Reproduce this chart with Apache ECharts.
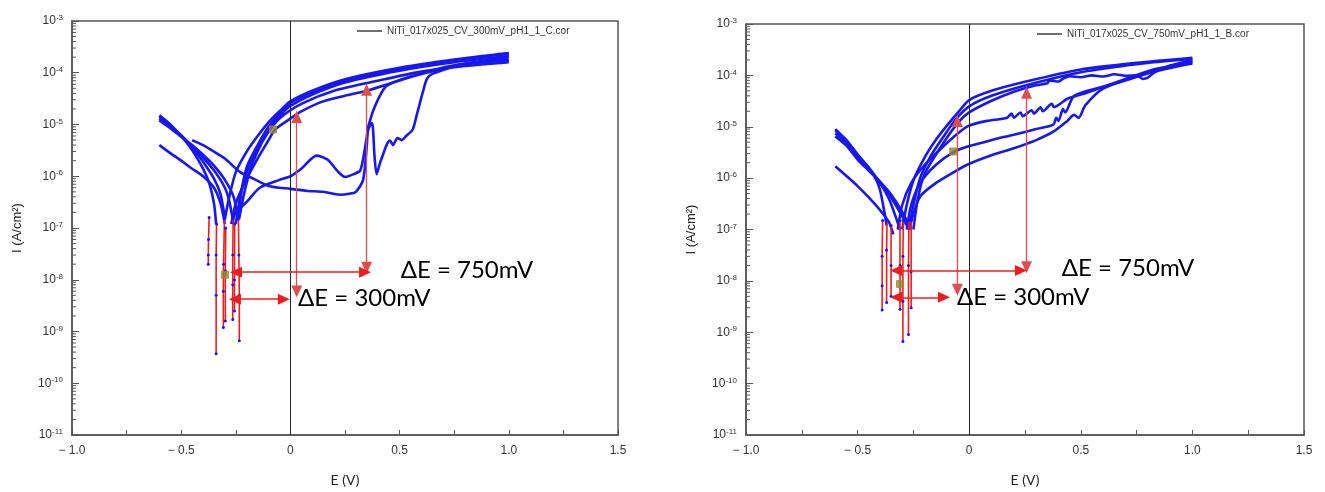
<!DOCTYPE html>
<html>
<head>
<meta charset="utf-8">
<script src="https://cdn.jsdelivr.net/npm/echarts@6/dist/echarts.min.js"></script>
<style>
html,body{margin:0;padding:0;background:#fff;}
#c{width:1325px;height:492px;}
</style>
</head>
<body>
<div id="c"></div>
<script>
// ---------- DATA (E in V, I in A/cm2) ----------
const legendNames = ['NiTi_017x025_CV_300mV_pH1_1_C.cor', 'NiTi_017x025_CV_750mV_pH1_1_B.cor'];
const xTickLabelsAt = [-1.0, -0.5, 0, 0.5, 1.0, 1.5];

const leftCathodic = [
  [[-0.6,1.5e-5],[-0.55,1e-5],[-0.5,6e-6],[-0.45,3.2e-6],[-0.4,1.4e-6],[-0.37,7e-7],[-0.35,3e-7],[-0.34,1.2e-7]],
  [[-0.6,1.4e-5],[-0.55,9.5e-6],[-0.5,6.2e-6],[-0.45,3.6e-6],[-0.4,1.9e-6],[-0.35,9e-7],[-0.32,4.5e-7],[-0.3,1.5e-7]],
  [[-0.6,1.3e-5],[-0.55,9e-6],[-0.5,6e-6],[-0.45,3.8e-6],[-0.4,2.3e-6],[-0.35,1.3e-6],[-0.3,6e-7],[-0.28,3.3e-7],[-0.26,1.2e-7]],
  [[-0.6,1.2e-5],[-0.55,8.5e-6],[-0.5,5.8e-6],[-0.45,4e-6],[-0.4,2.6e-6],[-0.35,1.6e-6],[-0.3,8.5e-7],[-0.26,4e-7],[-0.24,1.5e-7]],
  [[-0.6,4e-6],[-0.55,2.8e-6],[-0.5,2e-6],[-0.45,1.4e-6],[-0.4,1e-6],[-0.35,6e-7],[-0.32,3e-7],[-0.3,1.2e-7]]
];
const leftAnodic = [
  [[-0.25,1.2e-7],[-0.23,4e-7],[-0.2,1.5e-6],[-0.15,4e-6],[-0.1,9e-6],[-0.05,1.6e-5],[0,2.6e-5],[0.1,4.2e-5],[0.25,7e-5],[0.5,1.2e-4],[0.75,1.75e-4],[1.0,2.3e-4]],
  [[-0.235,1.5e-7],[-0.21,5e-7],[-0.18,1.5e-6],[-0.13,4.5e-6],[-0.08,1e-5],[-0.03,1.8e-5],[0,2.3e-5],[0.1,3.8e-5],[0.25,6.5e-5],[0.5,1.1e-4],[0.75,1.6e-4],[1.0,2.1e-4]],
  [[-0.3,1.5e-7],[-0.28,4e-7],[-0.25,1.2e-6],[-0.2,3e-6],[-0.15,6e-6],[-0.1,1.1e-5],[-0.05,1.8e-5],[0,2.8e-5],[0.1,4.5e-5],[0.25,7.5e-5],[0.5,1.25e-4],[0.75,1.8e-4],[1.0,2.4e-4]],
  [[-0.27,1.2e-7],[-0.25,3e-7],[-0.2,9e-7],[-0.15,2.2e-6],[-0.1,5e-6],[-0.07,8e-6],[0,1.3e-5],[0.05,1.8e-5],[0.15,2.8e-5],[0.25,3.6e-5],[0.35,4.5e-5],[0.47,6.5e-5],[0.6,9.5e-5],[0.8,1.45e-4],[1.0,1.8e-4]],
  [[1.0,1.6e-4],[0.8,1.35e-4],[0.6,1.05e-4],[0.4,7e-5],[0.2,4.5e-5],[0.05,2.5e-5],[-0.05,1.3e-5],[-0.12,5.5e-6],[-0.18,2e-6],[-0.22,6e-7],[-0.24,1.5e-7]]
];
const leftHump = [[-0.27,1.2e-7],[-0.25,2e-7],[-0.2,3.2e-7],[-0.14,6e-7],[-0.05,8.5e-7],[0,1e-6],[0.05,1.4e-6],[0.12,2.5e-6],[0.17,2.1e-6],[0.22,1.2e-6],[0.25,9.7e-7],[0.29,1.1e-6],[0.32,1.3e-6],[0.34,3.2e-6],[0.355,7.6e-6],[0.372,1.07e-5],[0.378,8.5e-6],[0.385,2.5e-6],[0.395,1.1e-6],[0.41,1.8e-6],[0.424,2.6e-6],[0.44,4e-6],[0.456,4.9e-6],[0.47,4e-6],[0.49,5.5e-6],[0.51,5e-6],[0.53,6e-6],[0.56,8e-6],[0.578,1.5e-5],[0.607,4.3e-5],[0.625,7.6e-5],[0.65,9.5e-5],[0.8,1.5e-4],[1.0,2e-4]];
const leftLower = [[-0.45,5e-6],[-0.4,4e-6],[-0.35,3e-6],[-0.3,2.2e-6],[-0.23,1.2e-6],[-0.17,9e-7],[-0.1,6.5e-7],[0,5.7e-7],[0.08,5.2e-7],[0.15,5e-7],[0.227,4.4e-7],[0.27,4.6e-7],[0.3,5e-7],[0.333,8.5e-7],[0.35,4e-6],[0.355,8.5e-6],[0.365,1.2e-5],[0.378,1.8e-5],[0.41,3.6e-5],[0.44,5.6e-5],[0.55,8.5e-5],[0.75,1.4e-4],[1.0,1.7e-4]];
const leftDips = [
  [[-0.372,1.6e-7],[-0.375,6e-8],[-0.376,3e-8],[-0.376,2e-8]],
  [[-0.338,1.2e-7],[-0.34,3e-8],[-0.34,5e-9],[-0.34,3.7e-10]],
  [[-0.302,1.5e-7],[-0.306,2e-8],[-0.307,6e-9],[-0.307,1.2e-9]],
  [[-0.296,1e-7],[-0.298,1.5e-8],[-0.298,1.6e-9]],
  [[-0.262,1.5e-7],[-0.264,3e-8],[-0.264,8e-9],[-0.264,1.7e-9]],
  [[-0.255,1.2e-7],[-0.256,1e-8],[-0.256,2.5e-9]],
  [[-0.238,1.5e-7],[-0.236,3e-8],[-0.234,5e-9],[-0.234,6.6e-10]]
];
const leftMarkers = [[-0.30,1.25e-8],[-0.08,8e-6]];
const leftArrows = [
  [[0.029,1.4e-5],[0.029,5.9e-9]],
  [[0.349,4.7e-5],[0.349,1.7e-8]],
  [[-0.249,1.4e-8],[0.342,1.4e-8]],
  [[-0.254,4.2e-9],[-0.03,4.2e-9]]
];
const leftTexts = [[0.505,1.53e-8,'ΔE = 750mV'],[0.035,4.3e-9,'ΔE = 300mV']];

const rightCathodic = [
  [[-0.6,9e-6],[-0.55,5.5e-6],[-0.5,2.9e-6],[-0.45,1.6e-6],[-0.42,1e-6],[-0.4,6e-7],[-0.38,2.2e-7],[-0.37,1.2e-7]],
  [[-0.6,8.5e-6],[-0.55,5.2e-6],[-0.5,2.7e-6],[-0.45,1.6e-6],[-0.4,8e-7],[-0.36,4e-7],[-0.33,1.8e-7],[-0.31,1e-7]],
  [[-0.6,7.5e-6],[-0.55,4.8e-6],[-0.5,2.5e-6],[-0.45,1.5e-6],[-0.4,8.5e-7],[-0.35,4.2e-7],[-0.3,1.8e-7],[-0.27,1e-7]],
  [[-0.6,6.5e-6],[-0.55,4.3e-6],[-0.5,2.3e-6],[-0.45,1.4e-6],[-0.4,8.5e-7],[-0.35,4.8e-7],[-0.3,2.2e-7],[-0.26,1e-7]],
  [[-0.6,1.7e-6],[-0.55,1.1e-6],[-0.5,7e-7],[-0.45,4.2e-7],[-0.4,2.4e-7],[-0.36,1.4e-7],[-0.34,8e-8]]
];
const rightAnodic = [
  [[-0.3,1e-7],[-0.28,3e-7],[-0.25,9e-7],[-0.2,2.5e-6],[-0.15,5.5e-6],[-0.1,1.05e-5],[-0.05,1.9e-5],[0,3.3e-5],[0.1,5e-5],[0.25,7.5e-5],[0.5,1.3e-4],[0.75,1.75e-4],[1.0,2.2e-4]],
  [[-0.27,1e-7],[-0.25,3e-7],[-0.22,1e-6],[-0.17,2.8e-6],[-0.12,6e-6],[-0.06,1.4e-5],[0,2.5e-5],[0.1,4e-5],[0.26,6.5e-5],[0.5,1.15e-4],[0.75,1.65e-4],[1.0,2.1e-4]],
  [[-0.32,1e-7],[-0.3,3e-7],[-0.26,8e-7],[-0.2,1.8e-6],[-0.12,4e-6],[-0.05,7.5e-6],[0,1.05e-5],[0.08,1.3e-5],[0.17,1.5e-5],[0.19,1.8e-5],[0.2,1.5e-5],[0.23,1.9e-5],[0.24,1.6e-5],[0.28,2.1e-5],[0.29,1.8e-5],[0.32,2.4e-5],[0.33,2e-5],[0.37,2.8e-5],[0.38,2.4e-5],[0.44,3.5e-5],[0.52,4.5e-5],[0.6,6e-5],[0.7,8.5e-5],[0.825,1.3e-4],[0.9,1.5e-4],[1.0,1.8e-4]],
  [[-0.28,1e-7],[-0.26,3e-7],[-0.22,8e-7],[-0.15,1.8e-6],[-0.07,3.2e-6],[0,4.2e-6],[0.1,5.5e-6],[0.2,7e-6],[0.3,9e-6],[0.377,1.1e-5],[0.39,1.5e-5],[0.4,1.3e-5],[0.42,2.2e-5],[0.43,1.9e-5],[0.47,4e-5],[0.6,6e-5],[0.68,7.5e-5],[0.9,1.5e-4],[1.0,1.9e-4]],
  [[-0.27,1e-7],[-0.25,2e-7],[-0.22,4.4e-7],[-0.15,8e-7],[-0.07,1.3e-6],[0,1.9e-6],[0.1,2.8e-6],[0.2,3.8e-6],[0.3,5.5e-6],[0.377,8e-6],[0.44,1.3e-5],[0.47,1.7e-5],[0.49,1.5e-5],[0.52,2.6e-5],[0.6,5.5e-5],[0.8,1.1e-4],[1.0,1.7e-4]],
  [[-0.25,1e-7],[-0.23,4e-7],[-0.2,1.2e-6],[-0.12,4.5e-6],[-0.05,1.2e-5],[0,1.9e-5],[0.1,3.2e-5],[0.2,4.8e-5],[0.29,6.3e-5],[0.35,7e-5],[0.36,8e-5],[0.4,7.6e-5],[0.42,8.6e-5],[0.45,9.6e-5],[0.5,9.2e-5],[0.55,1e-4],[0.6,9.5e-5],[0.65,1.05e-4],[0.7,9.8e-5],[0.75,1e-4],[0.78,8.5e-5],[0.8,9e-5],[0.83,1.15e-4],[0.9,1.55e-4],[1.0,2e-4]]
];
const rightDips = [
  [[-0.388,1.5e-7],[-0.39,3e-8],[-0.39,8e-9],[-0.39,2.7e-9]],
  [[-0.368,1.5e-7],[-0.37,4e-8],[-0.37,3.8e-9]],
  [[-0.35,1.2e-7],[-0.35,2e-8],[-0.35,5e-9]],
  [[-0.31,1.5e-7],[-0.31,2e-8],[-0.31,2.8e-9]],
  [[-0.295,1.5e-7],[-0.297,3e-8],[-0.297,4e-9],[-0.297,6.6e-10]],
  [[-0.27,1.5e-7],[-0.272,2e-8],[-0.272,9e-10]],
  [[-0.26,1.5e-7],[-0.26,1.5e-8],[-0.26,3e-9]]
];
const rightMarkers = [[-0.31,8.7e-9],[-0.072,3.3e-6]];
const rightArrows = [
  [[-0.053,1.3e-5],[-0.053,6.7e-9]],
  [[0.257,4.6e-5],[0.257,1.85e-8]],
  [[-0.327,1.6e-8],[0.232,1.6e-8]],
  [[-0.327,4.8e-9],[-0.113,4.8e-9]]
];
const rightTexts = [[0.415,1.78e-8,'ΔE = 750mV'],[-0.055,4.8e-9,'ΔE = 300mV']];

// ---------- CHART ----------
const BLUE = '#1717f2';
const RED = '#f01c1c';
const AX = '#555';
const LBL = '#333';

const chart = echarts.init(document.getElementById('c'), null, {renderer: 'canvas'});

function minorTickValues() {
  const out = [];
  for (let n = -11; n < -3; n++) for (let k = 2; k <= 9; k++) out.push([-1, k * Math.pow(10, n)]);
  return out;
}

function xAxisCfg(gi) {
  return {
    type: 'value', gridIndex: gi, min: -1, max: 1.5, interval: 0.25,
    name: 'E (V)', nameLocation: 'middle', nameGap: 38,
    nameTextStyle: {fontFamily: 'Lato', fontSize: 14, color: '#222'},
    axisLine: {show: true, onZero: false, lineStyle: {color: AX, width: 1.5}},
    axisTick: {show: true, inside: true, length: 5, lineStyle: {color: AX}},
    splitLine: {show: false},
    axisLabel: {
      margin: 10, fontFamily: 'Liberation Sans', fontSize: 12, color: LBL,
      formatter: v => {
        const isLbl = xTickLabelsAt.some(t => Math.abs(t - v) < 1e-9);
        if (!isLbl) return '';
        if (Math.abs(v) < 1e-9) return '0';
        return v < 0 ? '\u2212 ' + Math.abs(v).toFixed(1) : v.toFixed(1);
      }
    }
  };
}
function yAxisCfg(gi) {
  return {
    type: 'log', logBase: 10, gridIndex: gi, min: 1e-11, max: 1e-3,
    name: 'I (A/cm\u00B2)', nameLocation: 'middle', nameGap: 48, nameRotate: 90,
    nameTextStyle: {fontFamily: 'Liberation Sans', fontSize: 13, color: '#222'},
    axisLine: {show: true, onZero: false, lineStyle: {color: AX, width: 1.5}},
    axisTick: {show: true, inside: true, length: 7, lineStyle: {color: AX}},
    splitLine: {show: false},
    axisLabel: {
      margin: 9,
      formatter: v => '{b|10}{s|' + Math.round(Math.log10(v)) + '}',
      rich: {
        b: {fontFamily: 'Liberation Sans', fontSize: 12, color: LBL, lineHeight: 14},
        s: {fontFamily: 'Liberation Sans', fontSize: 8, color: LBL, lineHeight: 8, verticalAlign: 'top'}
      }
    }
  };
}

const series = [];
function addChart(gi, cathodic, anodic, extra, dips, markers, arrows, texts, legendName) {
  // legend-only series
  series.push({name: legendName, type: 'line', xAxisIndex: gi, yAxisIndex: gi, data: [], symbol: 'none',
    itemStyle: {color: '#222'}, lineStyle: {color: '#222', width: 1.2}});
  // minor ticks on log axis
  series.push({name: 'minor-ticks-' + gi, type: 'custom', xAxisIndex: gi, yAxisIndex: gi, silent: true,
    data: minorTickValues(),
    renderItem: (params, api) => {
      const p = api.coord([api.value(0), api.value(1)]);
      return {type: 'line', shape: {x1: p[0], y1: p[1], x2: p[0] + 4, y2: p[1]},
        style: {stroke: AX, lineWidth: 1}};
    }});
  const curves = cathodic.concat(anodic, extra);
  curves.forEach((d, i) => {
    series.push({type: 'line', name: 'curve-' + gi + '-' + i, xAxisIndex: gi, yAxisIndex: gi, data: d,
      symbol: 'none', smooth: 0.25, lineStyle: {color: BLUE, width: 2.6}, z: 3,
      markLine: i === 0 ? {
        silent: true, symbol: ['none', 'none'], label: {show: false},
        lineStyle: {color: '#222', width: 1, type: 'solid'},
        data: [{xAxis: 0}], z: 4
      } : undefined
    });
  });
  dips.forEach((d, i) => {
    series.push({type: 'line', name: 'dip-' + gi + '-' + i, xAxisIndex: gi, yAxisIndex: gi, data: d,
      symbol: 'circle', symbolSize: 3, showSymbol: true,
      itemStyle: {color: BLUE}, lineStyle: {color: RED, width: 1.6}, z: 4});
  });
  series.push({type: 'scatter', name: 'markers-' + gi, xAxisIndex: gi, yAxisIndex: gi, data: markers,
    symbol: 'rect', symbolSize: 7, itemStyle: {color: '#8a8a2e', borderColor: '#c47a2a', borderWidth: 1}, z: 6});
  series.push({type: 'line', name: 'arrows-' + gi, xAxisIndex: gi, yAxisIndex: gi, data: [], symbol: 'none',
    markLine: {
      silent: true, symbol: ['triangle', 'triangle'], symbolSize: [11, 12], label: {show: false},
      data: arrows.map((a, k) => [
        {coord: a[0], lineStyle: {color: k < 2 ? '#e44c4c' : RED, width: k < 2 ? 1.3 : 1.6, type: 'solid'},
         itemStyle: {color: RED}},
        {coord: a[1]}
      ])
    }});
  series.push({type: 'scatter', name: 'texts-' + gi, xAxisIndex: gi, yAxisIndex: gi, data: texts,
    symbolSize: 0, itemStyle: {color: '#000'}, z: 7,
    label: {show: true, position: 'right', distance: 0, formatter: p => p.data[2],
      fontFamily: 'Lato', fontSize: 24, color: '#000', opacity: 1}});
}

addChart(0, leftCathodic, leftAnodic, [leftHump, leftLower], leftDips, leftMarkers, leftArrows, leftTexts, legendNames[0]);
addChart(1, rightCathodic, rightAnodic, [], rightDips, rightMarkers, rightArrows, rightTexts, legendNames[1]);

const legendCfg = (name, left, top) => ({
  data: [name], left: left, top: top, itemWidth: 25, itemHeight: 1.3, itemGap: 0, padding: 0,
  icon: 'rect',
  textStyle: {fontFamily: 'Liberation Sans', fontSize: 10, color: '#333'}, selectedMode: false
});

chart.setOption({
  animation: false,
  backgroundColor: '#fff',
  grid: [
    {left: 72, top: 21, width: 546, height: 422, show: true, borderColor: AX, borderWidth: 1.5, backgroundColor: 'transparent'},
    {left: 746, top: 24, width: 558, height: 419, show: true, borderColor: AX, borderWidth: 1.5, backgroundColor: 'transparent'}
  ],
  legend: [legendCfg(legendNames[0], 357, 26), legendCfg(legendNames[1], 1037, 29)],
  xAxis: [xAxisCfg(0), xAxisCfg(1)],
  yAxis: [yAxisCfg(0), yAxisCfg(1)],
  series: series
});
</script>
</body>
</html>
